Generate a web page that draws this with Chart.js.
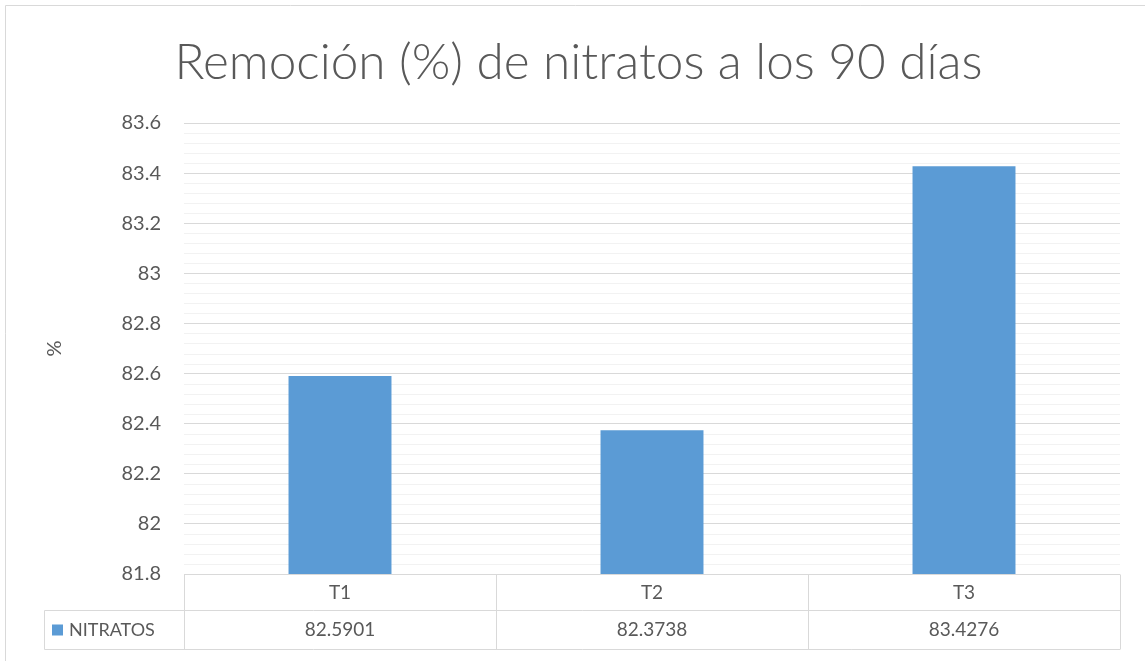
<!DOCTYPE HTML>
<html lang="es">
<head>
    <meta charset="UTF-8">
    <title>Remoción de nitratos</title>
    <style>
        body {
            margin: 0;
            padding: 0;
            background-color: #fff;
        }
        #chart-container {
            width: 1145px;
            height: 661px;
        }
    </style>
</head>
<body>
    <div id="chart-container">
        <canvas id="chart"></canvas>
    </div>

    <script src="https://cdn.jsdelivr.net/npm/chart.js"></script>
    <script>
        // Datos del gráfico
        const categorias = ["T1", "T2", "T3"];
        const nitratos = [82.5901, 82.3738, 83.4276];
        const valoresTabla = ["82.5901", "82.3738", "83.4276"];
        const nombreSerie = "NITRATOS";
        const tituloGrafico = "Remoción (%) de nitratos a los 90 días";
        const ejeY = { min: 81.8, max: 83.6, paso: 0.2, subdivisiones: 5 };

        const colorBarra = "#5B9BD5";
        const colorTexto = "#595959";
        const colorGrilla = "#D9D9D9";
        const colorGrillaMenor = "#F2F2F2";
        const fuente = "Lato, 'Open Sans', sans-serif";

        // Líneas de división menores (cada 0.04)
        const grillaMenor = {
            id: "grillaMenor",
            beforeDatasetsDraw(chart) {
                const { ctx, chartArea } = chart;
                const y = chart.scales.y;
                const paso = ejeY.paso / ejeY.subdivisiones;
                ctx.save();
                ctx.strokeStyle = colorGrillaMenor;
                ctx.lineWidth = 1;
                const n = Math.round((ejeY.max - ejeY.min) / paso);
                for (let i = 1; i < n; i++) {
                    if (i % ejeY.subdivisiones === 0) continue;
                    const py = Math.round(y.getPixelForValue(ejeY.min + i * paso)) + 0.5;
                    ctx.beginPath();
                    ctx.moveTo(chartArea.left, py);
                    ctx.lineTo(chartArea.right, py);
                    ctx.stroke();
                }
                ctx.restore();
            }
        };

        // Tabla de datos debajo del gráfico + borde exterior
        const tablaDatos = {
            id: "tablaDatos",
            afterDraw(chart) {
                const { ctx, chartArea } = chart;
                const x = chart.scales.x;
                const anchoCat = chartArea.width / categorias.length;
                const top = Math.round(chartArea.bottom) + 0.5;
                const medio = top + 36;
                const fondo = top + 75;
                const izqLeyenda = 44.5;

                ctx.save();
                ctx.strokeStyle = colorGrilla;
                ctx.lineWidth = 1;
                ctx.beginPath();
                ctx.moveTo(chartArea.left, top);
                ctx.lineTo(chartArea.right, top);
                ctx.moveTo(izqLeyenda, medio);
                ctx.lineTo(chartArea.right, medio);
                ctx.moveTo(izqLeyenda, fondo);
                ctx.lineTo(chartArea.right, fondo);
                ctx.moveTo(izqLeyenda, medio);
                ctx.lineTo(izqLeyenda, fondo);
                for (let i = 0; i <= categorias.length; i++) {
                    const px = Math.round(chartArea.left + i * anchoCat) + 0.5;
                    ctx.moveTo(px, top);
                    ctx.lineTo(px, fondo);
                }
                ctx.stroke();

                ctx.fillStyle = colorTexto;
                ctx.font = "19px " + fuente;
                ctx.textAlign = "center";
                ctx.textBaseline = "middle";
                categorias.forEach((c, i) => {
                    const px = x.getPixelForValue(i);
                    ctx.fillText(c, px, (top + medio) / 2);
                    ctx.fillText(valoresTabla[i], px, (medio + fondo) / 2);
                });

                ctx.fillStyle = colorBarra;
                ctx.fillRect(52, medio + 14, 11, 11);
                ctx.fillStyle = colorTexto;
                ctx.textAlign = "left";
                ctx.font = "18px " + fuente;
                ctx.fillText(nombreSerie, 69, (medio + fondo) / 2);

                // borde del área del gráfico
                ctx.strokeStyle = colorGrilla;
                ctx.beginPath();
                ctx.moveTo(5.5, chart.height + 5);
                ctx.lineTo(5.5, 5.5);
                ctx.lineTo(chart.width + 5, 5.5);
                ctx.stroke();
                ctx.restore();
            }
        };

        const chart = new Chart(document.getElementById("chart").getContext("2d"), {
            type: "bar",
            data: {
                labels: categorias,
                datasets: [{
                    label: nombreSerie,
                    data: nitratos,
                    backgroundColor: colorBarra,
                    borderWidth: 0,
                    barPercentage: 0.33,
                    categoryPercentage: 1
                }]
            },
            options: {
                responsive: true,
                maintainAspectRatio: false,
                animation: false,
                layout: {
                    padding: { left: 37, right: 25, top: 0, bottom: 87 }
                },
                plugins: {
                    legend: { display: false },
                    tooltip: { enabled: false },
                    title: {
                        display: true,
                        text: tituloGrafico,
                        color: colorTexto,
                        font: { family: fuente, size: 49.5, weight: "300" },
                        padding: { top: 33, bottom: 30.6 }
                    }
                },
                scales: {
                    x: {
                        display: false
                    },
                    y: {
                        min: ejeY.min,
                        max: ejeY.max,
                        border: { display: false },
                        grid: { color: colorGrilla, drawTicks: false },
                        ticks: {
                            stepSize: ejeY.paso,
                            padding: 23,
                            color: colorTexto,
                            font: { family: fuente, size: 20 },
                            callback: v => Math.round(v * 10) / 10
                        },
                        title: {
                            display: true,
                            text: "%",
                            color: colorTexto,
                            font: { family: fuente, size: 20 },
                            padding: { top: 6, bottom: 0 }
                        },
                        afterFit: scale => { scale.width = 147; }
                    }
                }
            },
            plugins: [grillaMenor, tablaDatos]
        });
    </script>
</body>
</html>
